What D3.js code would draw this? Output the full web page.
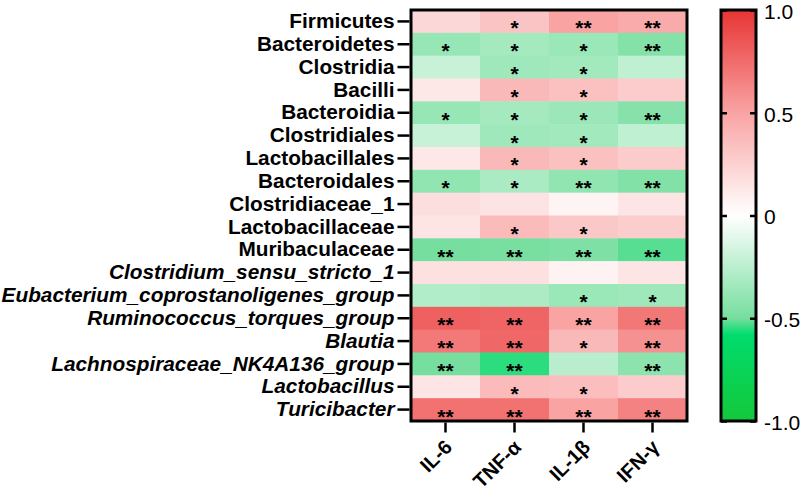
<!DOCTYPE html>
<html>
<head>
<meta charset="utf-8">
<script src="https://d3js.org/d3.v7.min.js"></script>
<style>
  body { margin: 0; background: #fff; }
  text { font-family: "Liberation Sans", Arial, sans-serif; }
</style>
</head>
<body>
<div id="chart"></div>
<script>
// taxa (rows) and cytokines (columns)
const taxa = ["Firmicutes", "Bacteroidetes", "Clostridia", "Bacilli", "Bacteroidia",
  "Clostridiales", "Lactobacillales", "Bacteroidales", "Clostridiaceae_1", "Lactobacillaceae",
  "Muribaculaceae", "Clostridium_sensu_stricto_1", "Eubacterium_coprostanoligenes_group",
  "Ruminococcus_torques_group", "Blautia", "Lachnospiraceae_NK4A136_group",
  "Lactobacillus", "Turicibacter"];
// genus names are drawn in italics
const italicFrom = 11;
const cytokines = ["IL-6", "TNF-α", "IL-1β", "IFN-γ"];

// correlation coefficients, one array per row (IL-6, TNF-α, IL-1β, IFN-γ)
const corr = [
  [0.22, 0.32, 0.50, 0.46],
  [-0.38, -0.33, -0.37, -0.45],
  [-0.20, -0.35, -0.34, -0.23],
  [0.13, 0.38, 0.34, 0.28],
  [-0.38, -0.33, -0.36, -0.44],
  [-0.20, -0.35, -0.34, -0.23],
  [0.13, 0.38, 0.34, 0.28],
  [-0.40, -0.31, -0.40, -0.46],
  [0.18, 0.15, 0.06, 0.14],
  [0.14, 0.37, 0.30, 0.27],
  [-0.50, -0.49, -0.47, -0.52],
  [0.17, 0.17, 0.07, 0.14],
  [-0.28, -0.30, -0.37, -0.35],
  [0.80, 0.78, 0.50, 0.70],
  [0.69, 0.77, 0.38, 0.58],
  [-0.50, -0.55, -0.26, -0.42],
  [0.14, 0.37, 0.36, 0.28],
  [0.72, 0.72, 0.50, 0.65]
];

// significance marks
const stars = [
  ["", "*", "**", "**"],
  ["*", "*", "*", "**"],
  ["", "*", "*", ""],
  ["", "*", "*", ""],
  ["*", "*", "*", "**"],
  ["", "*", "*", ""],
  ["", "*", "*", ""],
  ["*", "*", "**", "**"],
  ["", "", "", ""],
  ["", "*", "*", ""],
  ["**", "**", "**", "**"],
  ["", "", "", ""],
  ["", "", "*", "*"],
  ["**", "**", "**", "**"],
  ["**", "**", "*", "**"],
  ["**", "**", "", "**"],
  ["", "*", "*", ""],
  ["**", "**", "**", "**"]
];

const legendTicks = [1, 0.5, 0, -0.5, -1];

const W = 809, H = 493;
const hm = { left: 411, right: 687, top: 10, bottom: 421 };
const bar = { left: 721, right: 756, top: 10, bottom: 421 };

const svg = d3.select("#chart").append("svg")
  .attr("width", W)
  .attr("height", H);

const color = d3.scaleLinear()
  .domain([-1, -0.58, -0.5, 0, 0.5, 1])
  .range(["#14c83a", "#00dc6c", "#76de9e", "#ffffff", "#f9a3a3", "#e83434"])
  .clamp(true);

const x = d3.scaleBand().domain(cytokines).range([hm.left, hm.right]);
const y = d3.scaleBand().domain(taxa).range([hm.top, hm.bottom]);

const cells = [];
corr.forEach((row, i) => row.forEach((v, j) => {
  cells.push({ taxon: taxa[i], cyto: cytokines[j], v: v, s: stars[i][j] });
}));

// cells
svg.append("g")
  .selectAll("rect")
  .data(cells)
  .join("rect")
  .attr("x", d => x(d.cyto))
  .attr("y", d => y(d.taxon))
  .attr("width", x.bandwidth() + 0.5)
  .attr("height", y.bandwidth() + 0.5)
  .attr("fill", d => color(d.v));

// stars
svg.append("g")
  .selectAll("text")
  .data(cells.filter(d => d.s))
  .join("text")
  .attr("x", d => x(d.cyto) + x.bandwidth() / 2)
  .attr("y", d => y(d.taxon) + y.bandwidth() / 2 + 14)
  .attr("text-anchor", "middle")
  .style("font-size", "21px")
  .style("font-weight", "bold")
  .style("fill", "#000")
  .text(d => d.s);

// frame
svg.append("rect")
  .attr("x", hm.left).attr("y", hm.top)
  .attr("width", hm.right - hm.left).attr("height", hm.bottom - hm.top)
  .attr("fill", "none").attr("stroke", "#000").attr("stroke-width", 3);

// y axis
const yAxis = svg.append("g")
  .attr("transform", `translate(${hm.left - 1.5},0)`)
  .call(d3.axisLeft(y).tickSize(12).tickPadding(3));
yAxis.select(".domain").remove();
yAxis.selectAll("line").attr("stroke", "#000").attr("stroke-width", 2.5);
yAxis.selectAll("text")
  .style("font-size", "20.8px")
  .style("font-weight", "bold")
  .style("fill", "#000")
  .style("font-style", (d, i) => i >= italicFrom ? "italic" : "normal");

// x axis
const xAxis = svg.append("g")
  .attr("transform", `translate(0,${hm.bottom + 1.5})`)
  .call(d3.axisBottom(x).tickSize(10).tickPadding(3));
xAxis.select(".domain").remove();
xAxis.selectAll("line").attr("stroke", "#000").attr("stroke-width", 2.5);
xAxis.selectAll("text")
  .style("font-size", "20px")
  .style("font-weight", "bold")
  .style("fill", "#000")
  .attr("text-anchor", "end")
  .attr("transform", "translate(3,21) rotate(-45)")
  .attr("dy", "0.35em")
  .attr("y", 0);

// colour bar
const defs = svg.append("defs");
const grad = defs.append("linearGradient")
  .attr("id", "cbar")
  .attr("x1", 0).attr("y1", 1).attr("x2", 0).attr("y2", 0);
d3.range(0, 1.0001, 0.01).forEach(t => {
  grad.append("stop")
    .attr("offset", t)
    .attr("stop-color", color(-1 + 2 * t));
});

const yb = d3.scaleLinear().domain([-1, 1]).range([bar.bottom, bar.top]);

svg.append("rect")
  .attr("x", bar.left).attr("y", bar.top)
  .attr("width", bar.right - bar.left).attr("height", bar.bottom - bar.top)
  .attr("fill", "url(#cbar)");

const inL = svg.append("g")
  .attr("transform", `translate(${bar.left},0)`)
  .call(d3.axisLeft(yb).tickValues(legendTicks).tickSize(-6).tickFormat(""));
inL.select(".domain").remove();
inL.selectAll("line").attr("stroke", "#000").attr("stroke-width", 2.5);

const inR = svg.append("g")
  .attr("transform", `translate(${bar.right},0)`)
  .call(d3.axisRight(yb).tickValues(legendTicks).tickSize(-6).tickPadding(8)
    .tickFormat(d => d === 0 ? "0" : d.toFixed(1)));
inR.select(".domain").remove();
inR.selectAll("line").attr("stroke", "#000").attr("stroke-width", 2.5);
inR.selectAll("text")
  .attr("dy", "0.4em")
  .style("font-size", "21px")
  .style("fill", "#000");

svg.append("rect")
  .attr("x", bar.left).attr("y", bar.top)
  .attr("width", bar.right - bar.left).attr("height", bar.bottom - bar.top)
  .attr("fill", "none").attr("stroke", "#000").attr("stroke-width", 3);
</script>
</body>
</html>
